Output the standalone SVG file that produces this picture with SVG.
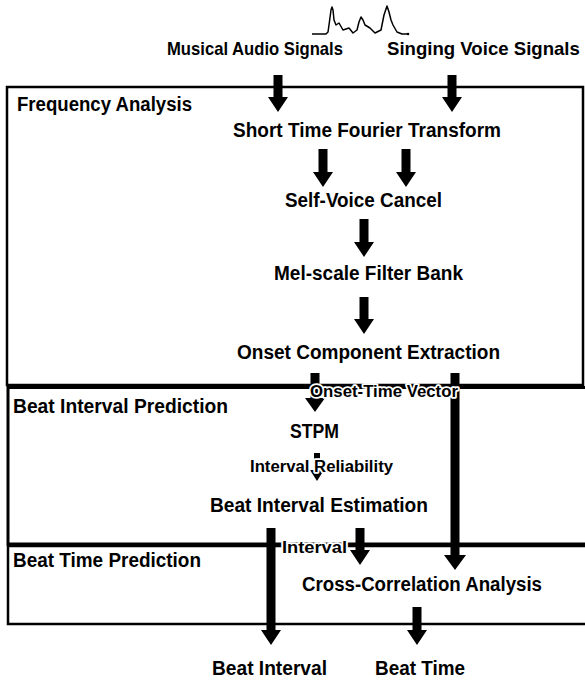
<svg xmlns="http://www.w3.org/2000/svg" width="585" height="680" viewBox="0 0 585 680">
<style>
  .bg { fill: #ffffff; }
  .box { fill: none; stroke: #000; }
  .t { font-family: "Liberation Sans", Arial, sans-serif; font-weight: bold; font-size: 20px; fill: #000; }
  .top { font-size: 18.6px; }
  .lbl { font-family: "Liberation Sans", Arial, sans-serif; font-weight: bold; font-size: 16px; fill: #000; stroke: #fff; stroke-width: 3.5; paint-order: stroke; stroke-linejoin: round; }
  .arrow { fill: #000; stroke: none; }
  .wave { fill: none; stroke: #000; stroke-width: 1.5; stroke-linejoin: round; }
</style>
<rect class="bg" x="0" y="0" width="585" height="680"/>

<g id="box-frequency-analysis">
  <rect class="box" x="7" y="87" width="576" height="298" stroke-width="2.5"/>
  <text class="t" x="17" y="111" textLength="175" lengthAdjust="spacingAndGlyphs">Frequency Analysis</text>
</g>
<g id="box-beat-interval-prediction">
  <rect class="box" x="8" y="387.5" width="600" height="156.5" stroke-width="3"/>
  <text class="t" x="13" y="413" textLength="215" lengthAdjust="spacingAndGlyphs">Beat Interval Prediction</text>
</g>
<g id="box-beat-time-prediction">
  <rect class="box" x="8" y="546" width="600" height="78" stroke-width="2.5"/>
  <text class="t" x="13" y="567" textLength="188" lengthAdjust="spacingAndGlyphs">Beat Time Prediction</text>
</g>

<g id="waveform">
  <path class="wave" d="M312,34 L326,34 L328,32 L329,25 L331,10 L332,7 L333,10 L334,20 L336,25 L339,23 L343,30 L346,29 L349,28 L353,33 L357,30 L359,22 L361,17 L363,20 L365,25 L370,28 L375,33 L381,30 L384,15 L387,6 L389,12 L391,20 L393,25 L397,32 L402,34 L408,34"/>
  <circle cx="408" cy="34" r="1.3" fill="#000"/>
</g>

<g id="connectors">
  <path class="arrow" d="M273.5,75 H282.5 V97 H288 L278,112 L268,97 H273.5 Z"/>
  <path class="arrow" d="M447.5,75 H456.5 V97 H462 L452,112 L442,97 H447.5 Z"/>
  <path class="arrow" d="M318.5,149 H327.5 V172 H333 L323,187 L313,172 H318.5 Z"/>
  <path class="arrow" d="M401.5,149 H410.5 V172 H416 L406,187 L396,172 H401.5 Z"/>
  <path class="arrow" d="M359.5,219 H368.5 V242 H374 L364,257 L354,242 H359.5 Z"/>
  <path class="arrow" d="M359.5,297 H368.5 V319 H374 L364,334 L354,319 H359.5 Z"/>
  <path class="arrow" d="M310.5,373 H319.5 V398 H325 L315,412 L305,398 H310.5 Z"/>
  <path class="arrow" d="M450.5,373 H459.5 V555 H466 L455,570 L444,555 H450.5 Z"/>
  <path class="arrow" d="M314,453 H320 V470 H324 L317,481 L310,470 H314 Z"/>
  <path class="arrow" d="M266.5,528 H275.5 V630 H281 L271,645 L261,630 H266.5 Z"/>
  <path class="arrow" d="M355.5,528 H364.5 V550 H370 L360,565 L350,550 H355.5 Z"/>
  <path class="arrow" d="M412.5,607 H421.5 V630 H427 L417,645 L407,630 H412.5 Z"/>
  <text class="lbl" x="310" y="397" textLength="148" lengthAdjust="spacingAndGlyphs">Onset-Time Vector</text>
  <text class="lbl" x="250" y="472" font-size="17" textLength="143" lengthAdjust="spacingAndGlyphs">Interval Reliability</text>
  <text class="lbl" x="282" y="553" textLength="65" lengthAdjust="spacingAndGlyphs">Interval</text>
</g>

<g id="node-musical-audio"><text class="t top" x="167" y="55" textLength="176" lengthAdjust="spacingAndGlyphs">Musical Audio Signals</text></g>
<g id="node-singing-voice"><text class="t top" x="387" y="55">Singing Voice Signals</text></g>
<g id="node-stft"><text class="t" x="233" y="137" textLength="268" lengthAdjust="spacingAndGlyphs">Short Time Fourier Transform</text></g>
<g id="node-self-voice-cancel"><text class="t" x="285" y="207" textLength="157" lengthAdjust="spacingAndGlyphs">Self-Voice Cancel</text></g>
<g id="node-mel-filter-bank"><text class="t" x="274" y="280" textLength="189" lengthAdjust="spacingAndGlyphs">Mel-scale Filter Bank</text></g>
<g id="node-onset-extraction"><text class="t" x="237" y="359" textLength="263" lengthAdjust="spacingAndGlyphs">Onset Component Extraction</text></g>
<g id="node-stpm"><text class="t" x="290" y="438" textLength="49" lengthAdjust="spacingAndGlyphs">STPM</text></g>
<g id="node-beat-interval-estimation"><text class="t" x="210" y="512" textLength="218" lengthAdjust="spacingAndGlyphs">Beat Interval Estimation</text></g>
<g id="node-cross-correlation"><text class="t" x="302" y="591" textLength="240" lengthAdjust="spacingAndGlyphs">Cross-Correlation Analysis</text></g>
<g id="node-beat-interval"><text class="t" x="212" y="675" textLength="115" lengthAdjust="spacingAndGlyphs">Beat Interval</text></g>
<g id="node-beat-time"><text class="t" x="375" y="675" textLength="90" lengthAdjust="spacingAndGlyphs">Beat Time</text></g>
</svg>
